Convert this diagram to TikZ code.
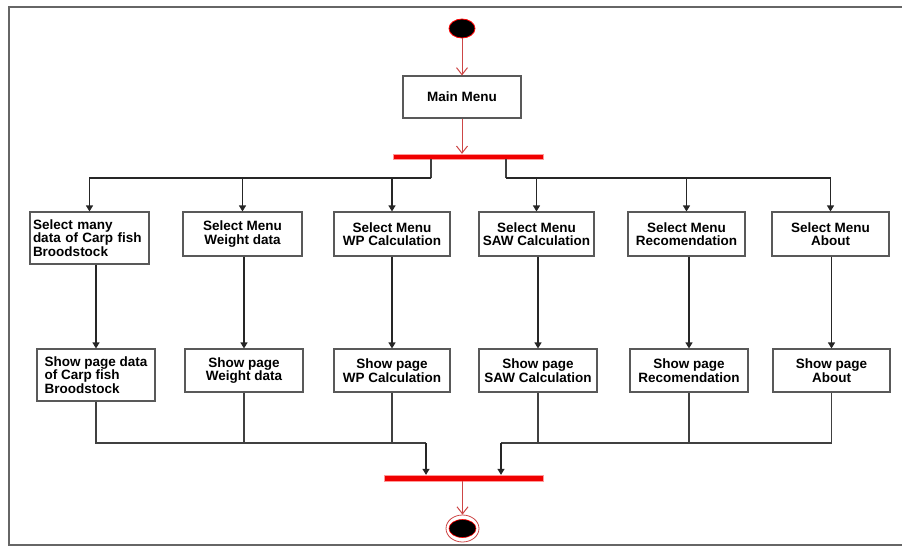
\documentclass[tikz,border=0pt]{standalone}
\usepackage{fontspec}
\setmainfont{Liberation Sans}
\usetikzlibrary{shapes,arrows.meta,positioning}
\definecolor{flowred}{RGB}{205,70,70}
\definecolor{barred}{RGB}{240,0,0}

\begin{document}
\begin{tikzpicture}[
    x=1pt, y=-1pt,
    box/.style={rectangle, draw=black!65, line width=1.1pt, minimum height=44pt, minimum width=117pt, inner sep=3pt, align=center, font=\bfseries\fontsize{13.5}{13.5}\selectfont},
    bar/.style={rectangle, fill=barred, draw=red!40, line width=0.3pt, minimum height=5pt, inner sep=0pt},
    arrow/.style={-{Triangle[length=6pt,width=7pt]}, black!85, line width=1.1pt},
    line/.style={black!75, line width=1.1pt},
    redarrow/.style={-{Straight Barb[length=7pt,width=11pt]}, flowred, line width=1pt}
]
\useasboundingbox (0,0) rectangle (902,546);
\draw[black!60, line width=1.3pt] (9,7) rectangle (910,545);

% start, main menu, fork
\node[ellipse, fill=black, draw=red, line width=0.8pt, minimum width=26pt, minimum height=19pt] (start) at (462,28.5) {};
\node[box, minimum width=118pt, minimum height=42pt] (main) at (462,97) {Main Menu};
\node[bar, minimum width=150pt] (fork) at (468,156.5) {};

\draw[redarrow] (start) -- (main);
\draw[redarrow] (main) -- (main |- fork.north);

% select menu
\node[box, minimum height=52pt, text width=113pt, align=left] (selA) at (89.5,238) {Select many\\data of Carp fish\\Broodstock};
\node[box, minimum width=119pt] (selB) at (242.5,234) {Select Menu\\Weight data};
\node[box, minimum width=116pt] (selC) at (392,234) {Select Menu\\WP Calculation};
\node[box, minimum width=115pt] (selD) at (536.5,234) {Select Menu\\SAW Calculation};
\node[box] (selE) at (686.5,234) {Select Menu\\Recomendation};
\node[box] (selF) at (830.5,234) {Select Menu\\About};

% show page
\node[box, minimum width=118pt, minimum height=52pt, align=left] (showA) at (96,375) {Show page data\\of Carp fish\\Broodstock};
\node[box, minimum width=118pt, minimum height=43pt] (showB) at (244,370.5) {Show page\\Weight data};
\node[box, minimum width=116pt, minimum height=43pt] (showC) at (392,370.5) {Show page\\WP Calculation};
\node[box, minimum width=118pt, minimum height=43pt] (showD) at (538,370.5) {Show page\\SAW Calculation};
\node[box, minimum width=118pt, minimum height=43pt] (showE) at (689,370.5) {Show page\\Recomendation};
\node[box, minimum height=43pt] (showF) at (831.5,370.5) {Show page\\About};

% join, end
\node[bar, minimum width=159pt, minimum height=6pt] (join) at (463.5,478) {};
\node[ellipse, draw=flowred, line width=0.8pt, minimum width=33pt, minimum height=27pt] (endst) at (462.5,528.5) {};
\node[ellipse, fill=black, draw=red, line width=0.6pt, minimum width=27pt, minimum height=18pt] (endin) at (endst) {};

% fork branches
\coordinate (forkL) at (431,178);
\coordinate (forkR) at (506,178);
\draw[line] (fork.south -| forkL) -- (forkL);
\draw[line] (fork.south -| forkR) -- (forkR);
\foreach \s in {selA,selB,selC}
    \draw[arrow] (forkL) -| (\s);
\foreach \s in {selD,selE,selF}
    \draw[arrow] (forkR) -| (\s);

\foreach \a/\b in {selA/showA,selB/showB,selC/showC,selD/showD,selE/showE,selF/showF}
    \draw[arrow] (\a.south -| \b.north) -- (\b.north);

% join branches
\coordinate (joinL) at (426,443);
\coordinate (joinR) at (501,443);
\foreach \s in {showA,showB,showC}
    \draw[line] (\s) |- (joinL);
\foreach \s in {showD,showE,showF}
    \draw[line] (\s) |- (joinR);
\draw[arrow] (joinL) -- (joinL |- join.north);
\draw[arrow] (joinR) -- (joinR |- join.north);

\draw[redarrow] (join.south -| endst) -- (endst);
\end{tikzpicture}
\end{document}
